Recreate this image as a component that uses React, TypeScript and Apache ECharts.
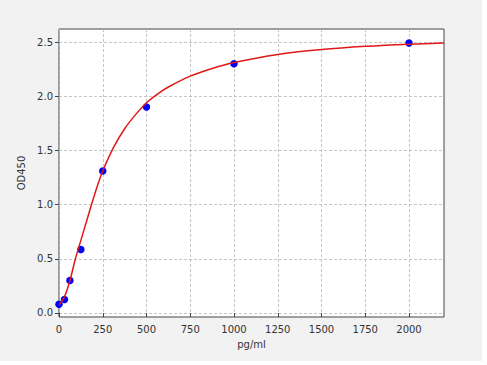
import React, { useEffect, useRef } from "react";
import * as echarts from "echarts";

const pointX = [0, 31.25, 62.5, 125, 250, 500, 1000, 2000];
const pointY = [0.08, 0.125, 0.3, 0.585, 1.31, 1.9, 2.3, 2.49];

const curveX = [0, 31.25, 62.5, 93.75, 125, 156.25, 187.5, 218.75, 250, 312.5, 375, 437.5, 500, 562.5, 625, 750, 875, 1000, 1250, 1500, 1750, 2000, 2200];
const curveY = [0.075, 0.15, 0.3, 0.5, 0.67, 0.84, 1.01, 1.17, 1.31, 1.53, 1.7, 1.83, 1.94, 2.02, 2.085, 2.185, 2.255, 2.31, 2.385, 2.43, 2.46, 2.48, 2.49];

const xTicks = [0, 250, 500, 750, 1000, 1250, 1500, 1750, 2000];
const yTicks = [0, 0.5, 1.0, 1.5, 2.0, 2.5];

const FONT = "DejaVu Sans";

export default function App() {
  const ref = useRef<HTMLDivElement>(null);
  useEffect(() => {
    if (!ref.current) return;
    const chart = echarts.init(ref.current, null, { renderer: "svg" });
    chart.setOption({
      animation: false,
      backgroundColor: "#f2f2f2",
      grid: {
        left: 59,
        right: 38,
        top: 29,
        bottom: 44,
        show: true,
        backgroundColor: "#ffffff",
        borderColor: "#444",
        borderWidth: 1,
      },
      xAxis: {
        type: "value",
        min: 0,
        max: 2200,
        name: "pg/ml",
        nameLocation: "middle",
        nameGap: 22,
        nameTextStyle: { fontFamily: FONT, fontSize: 10, color: "#333" },
        axisLine: { show: false },
        axisTick: { show: true, length: 4, lineStyle: { color: "#444" }, customValues: xTicks },
        axisLabel: {
          fontFamily: FONT,
          fontSize: 10,
          color: "#333",
          margin: 7,
          customValues: xTicks,
          formatter: (v: number) => String(v),
        },
        splitLine: { show: true, lineStyle: { color: "#b8b8b8", type: [3, 2], width: 0.8 } },
      },
      yAxis: {
        type: "value",
        min: -0.037,
        max: 2.62,
        name: "OD450",
        nameLocation: "middle",
        nameGap: 28,
        nameTextStyle: { fontFamily: FONT, fontSize: 10, color: "#333" },
        axisLine: { show: false },
        axisTick: { show: true, length: 4, lineStyle: { color: "#444" }, customValues: yTicks },
        axisLabel: {
          fontFamily: FONT,
          fontSize: 10,
          color: "#333",
          margin: 6,
          customValues: yTicks,
          formatter: (v: number) => v.toFixed(1),
        },
        splitLine: { show: true, lineStyle: { color: "#b8b8b8", type: [3, 2], width: 0.8 } },
      },
      series: [
        {
          type: "scatter",
          data: pointX.map((x, i) => [x, pointY[i]]),
          symbolSize: 7.5,
          itemStyle: { color: "#0000ff", opacity: 1 },
          z: 2,
        },
        {
          type: "line",
          data: curveX.map((x, i) => [x, curveY[i]]),
          smooth: 0.3,
          showSymbol: false,
          lineStyle: { color: "#e01818", width: 1.5 },
          z: 3,
        },
      ],
    });
    return () => chart.dispose();
  }, []);
  return (
    <div style={{ position: "absolute", left: 0, top: 0, width: 487, height: 365, background: "#ffffff" }}>
      <div ref={ref} style={{ width: 482, height: 361 }} />
    </div>
  );
}
